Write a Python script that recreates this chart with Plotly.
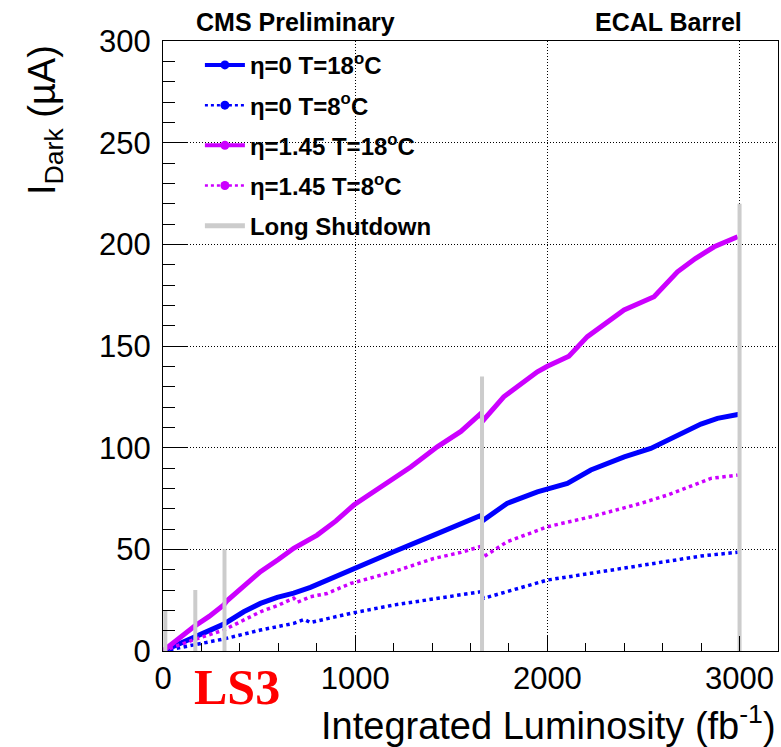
import plotly.graph_objects as go

# ---- data ----
lumi_m18 = [0, 80, 160, 240, 316, 333, 420, 507, 600, 680, 802, 900, 993, 1100, 1200, 1289, 1427, 1550, 1650, 1668,
            1773, 1860, 1948, 2000, 2112, 2208, 2300, 2399, 2555, 2677, 2770, 2868, 2990]
idark_m18 = [0, 6, 11.9, 17, 22.6, 24.7, 32, 39, 45, 50.5, 57, 64, 71.8, 78.5, 85.5, 90.5, 100.4, 108, 116.5, 113.6,
             125, 131, 137.3, 140, 145, 154.6, 161, 167.7, 174.2, 186.5, 193, 198.8, 203.7]

lumi_b18 = [0, 80, 159, 240, 316, 420, 507, 594, 680, 767, 854, 1028, 1200, 1409, 1550, 1650, 1668, 1790, 1948, 2104,
            2226, 2400, 2538, 2625, 2799, 2885, 2998]
idark_b18 = [0, 3.5, 7, 10, 13.2, 19.3, 23.4, 26.4, 28.5, 31.3, 34.9, 41.8, 48.8, 57, 62.8, 66.5, 64.4, 72.6, 78.3, 82.4,
             89, 95.5, 99.6, 103.7, 111.6, 114.4, 116.4]

lumi_m8 = [0, 80, 159, 316, 420, 507, 600, 680, 700, 767, 854, 976, 1200, 1409, 1550, 1650, 1668, 1790, 2000, 2226,
           2486, 2625, 2851, 2990]
idark_m8 = [0, 3, 5.5, 10.3, 15.2, 19.3, 22.5, 26, 24, 26.7, 28.3, 33.2, 39, 45.5, 48.5, 51.3, 46.3, 53.7, 61.1, 66,
            72.6, 76.7, 84.9, 86.5]

lumi_b8 = [0, 159, 316, 507, 680, 735, 767, 850, 976, 1200, 1427, 1650, 1668, 2000, 2226, 2538, 2799, 2990]
idark_b8 = [0, 3, 5.9, 10.3, 13.6, 15.5, 14, 15.8, 18.5, 22.6, 25.9, 29.1, 25.9, 34.9, 38.2, 42.6, 46.7, 48.6]

ls_lumi = [12, 168, 320, 1660, 3000]
ls_height = [20, 30, 50, 135, 220]

labels = ["η=0 T=18<sup>o</sup>C", "η=0 T=8<sup>o</sup>C", "η=1.45 T=18<sup>o</sup>C", "η=1.45 T=8<sup>o</sup>C",
          "Long Shutdown"]

BLUE = "#0000ff"
MAG = "#cc00ff"
GRAY = "#cccccc"

series = [
    (lumi_b18, idark_b18, BLUE, "solid", 5),
    (lumi_b8, idark_b8, BLUE, "dot", 3.5),
    (lumi_m18, idark_m18, MAG, "solid", 5),
    (lumi_m8, idark_m8, MAG, "dot", 3.5),
]

fig = go.Figure()
for (xs, ys, col, dash, w) in series:
    fig.add_trace(go.Scatter(x=xs, y=ys, mode="lines", line=dict(color=col, dash=dash, width=w),
                             showlegend=False, hoverinfo="skip"))

# Long shutdown vertical markers
gx, gy = [], []
for lx, h in zip(ls_lumi, ls_height):
    gx += [lx, lx, None]
    gy += [0, h, None]
fig.add_trace(go.Scatter(x=gx, y=gy, mode="lines", line=dict(color=GRAY, width=4), showlegend=False,
                         hoverinfo="skip"))

# legend entries
for i, (xs, ys, col, dash, w) in enumerate(series):
    fig.add_trace(go.Scatter(x=[None], y=[None], mode="lines+markers", name=labels[i],
                             line=dict(color=col, dash=dash, width=w - 1),
                             marker=dict(color=col, size=9, symbol="circle"),
                             legendgroup=f"g{i}"))
fig.add_trace(go.Scatter(x=[None], y=[None], mode="lines", name=labels[4],
                         line=dict(color=GRAY, width=5), legendgroup="g4"))

FONT = "Liberation Sans, Arial, sans-serif"
GRIDDASH = "1px,2px"

fig.update_layout(
    width=781, height=747,
    margin=dict(l=163, r=3, t=41, b=96),
    paper_bgcolor="white", plot_bgcolor="white",
    font=dict(family=FONT, color="black"),
    showlegend=True,
    legend=dict(x=0.06, y=0.997, xanchor="left", yanchor="top", bgcolor="rgba(0,0,0,0)",
                font=dict(family=FONT, size=24, color="black", weight="bold"),
                traceorder="grouped", tracegroupgap=6, itemwidth=40),
    xaxis=dict(range=[0, 3200], tickvals=[0, 1000, 2000, 3000], ticks="inside", ticklen=15, tickwidth=1,
               tickcolor="black", showline=True, linecolor="black", linewidth=1, mirror=True,
               showgrid=True, gridcolor="black", griddash=GRIDDASH, gridwidth=1, zeroline=False,
               tickfont=dict(family=FONT, size=31, color="black"),
               minor=dict(dtick=200, ticks="inside", ticklen=8, tickcolor="black", showgrid=False)),
    yaxis=dict(range=[0, 300], tickvals=[0, 50, 100, 150, 200, 250, 300], ticks="inside", ticklen=25, tickwidth=1,
               tickcolor="black", showline=True, linecolor="black", linewidth=1, mirror=True,
               showgrid=True, gridcolor="black", griddash=GRIDDASH, gridwidth=1, zeroline=False,
               ticklabelstandoff=5,
               tickfont=dict(family=FONT, size=31, color="black"),
               minor=dict(dtick=10, ticks="inside", ticklen=12, tickcolor="black", showgrid=False)),
    annotations=[
        dict(text="<b>CMS Preliminary</b>", xref="paper", yref="paper", x=0.05, y=1, xanchor="left",
             yanchor="middle", yshift=19, showarrow=False, font=dict(family=FONT, size=25, color="black")),
        dict(text="<b>ECAL Barrel</b>", xref="paper", yref="paper", x=0.945, y=1, xanchor="right",
             yanchor="middle", yshift=19, showarrow=False, font=dict(family=FONT, size=25, color="black")),
        dict(text="Integrated Luminosity (fb<sup>-1</sup>)", xref="paper", yref="paper", x=1, y=0,
             xanchor="right", yanchor="top", yshift=-46, showarrow=False,
             font=dict(family=FONT, size=38, color="black")),
        dict(text="I<sub>Dark</sub> (µA)", xref="paper", yref="paper", x=0, y=1, xanchor="center",
             yanchor="top", xshift=-118, yshift=-2, textangle=-90, showarrow=False,
             font=dict(family=FONT, size=38, color="black")),
        dict(text="<b>LS3</b>", xref="x", yref="paper", x=387, y=0, xanchor="center", yanchor="middle",
             yshift=-36, showarrow=False,
             font=dict(family="Liberation Serif, Times New Roman, serif", size=50, color="#ff0000")),
    ],
)

fig.write_html("out.html")
